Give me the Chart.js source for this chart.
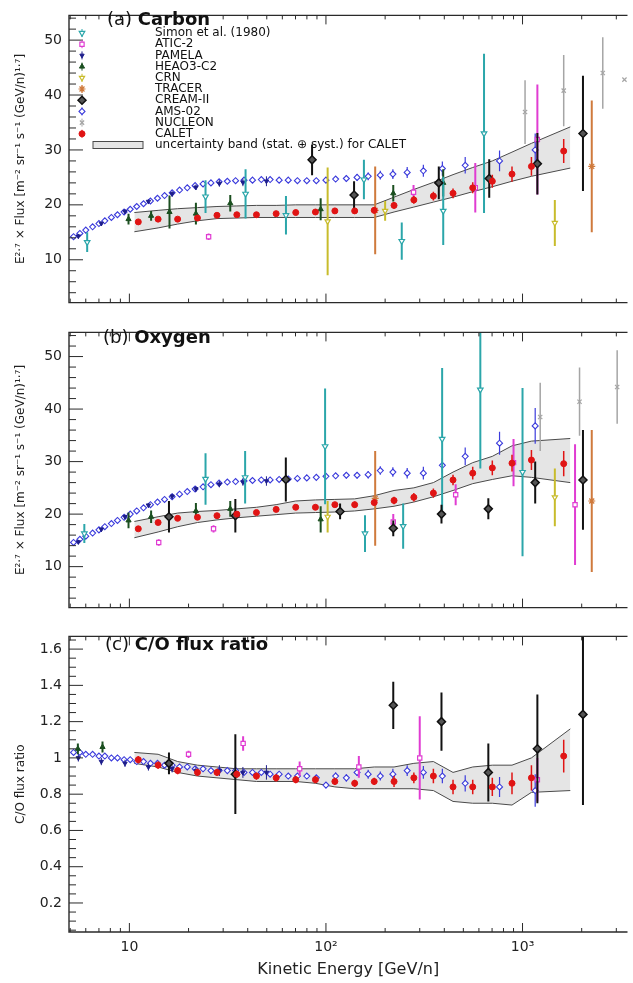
<!DOCTYPE html>
<html>
<head>
<meta charset="utf-8">
<script src="https://cdn.jsdelivr.net/npm/chart.js@4.4.1/dist/chart.umd.min.js"></script>
<style>
html, body { margin: 0; padding: 0; background: #fff; overflow: hidden; }
.pane { position: absolute; left: 0; width: 633px; }
#wa { top: 0; height: 318px; }
#wb { top: 317px; height: 306px; }
#wc { top: 621px; height: 362px; }
canvas { display: block; }
</style>
</head>
<body>
<div class="pane" id="wa"><canvas id="ca" width="633" height="318"></canvas></div>
<div class="pane" id="wb"><canvas id="cb" width="633" height="306"></canvas></div>
<div class="pane" id="wc"><canvas id="cc" width="633" height="362"></canvas></div>
<script>
// CALET C / O / C-O, plus other experiments, E^2.7 x flux vs kinetic energy per nucleon

// axis ticks
var xTickValues = [10, 100, 1000];
var xTickLabels = ["10", "10²", "10³"];
var yTicksFlux = [10, 20, 30, 40, 50];
var yTicksRatio = [0.2, 0.4, 0.6, 0.8, 1.0, 1.2, 1.4, 1.6];

// CALET (energy bins shared by C, O and C/O)
var calE = [11.1, 14.0, 17.6, 22.2, 27.9, 35.2, 44.3, 55.8, 70.2, 88.4, 111, 140, 176, 222, 280, 352, 443, 558, 702, 884, 1110, 1620];
var bandE = [10.6, 14.0, 17.6, 22.2, 27.9, 35.2, 44.3, 55.8, 70.2, 88.4, 111, 140, 176, 222, 280, 352, 443, 558, 702, 884, 1110, 1750];

var calC = [16.9, 17.4, 17.4, 17.6, 18.1, 18.2, 18.2, 18.4, 18.6, 18.7, 18.9, 18.9, 19.0, 19.9, 20.9, 21.6, 22.1, 23.1, 24.3, 25.6, 27.0, 29.8];
var calCErr = [0.4, 0.4, 0.4, 0.4, 0.4, 0.4, 0.4, 0.4, 0.5, 0.5, 0.5, 0.5, 0.6, 0.6, 0.7, 0.8, 0.9, 1.0, 1.2, 1.4, 1.7, 2.2];
var bandCLo = [15.1, 15.8, 16.5, 17.1, 17.5, 17.6, 17.7, 17.7, 17.7, 17.7, 17.7, 17.7, 17.7, 18.7, 19.6, 20.5, 21.4, 22.4, 23.3, 24.3, 25.2, 26.7];
var bandCHi = [18.6, 19.0, 19.3, 19.5, 19.7, 19.8, 19.9, 19.9, 20.0, 20.0, 20.0, 20.0, 20.0, 21.4, 22.8, 24.1, 25.5, 26.8, 28.0, 29.6, 31.2, 34.2];

var calO = [17.2, 18.4, 19.2, 19.4, 19.7, 20.0, 20.3, 20.9, 21.3, 21.3, 21.8, 21.8, 22.2, 22.6, 23.2, 24.0, 26.5, 27.8, 28.8, 29.7, 30.3, 29.6];
var calOErr = [0.4, 0.4, 0.4, 0.4, 0.4, 0.4, 0.5, 0.5, 0.5, 0.5, 0.5, 0.6, 0.6, 0.7, 0.8, 0.9, 1.0, 1.2, 1.4, 1.6, 1.9, 2.4];
var bandOLo = [15.5, 16.6, 17.6, 18.4, 18.9, 19.3, 19.6, 19.9, 20.2, 20.3, 20.4, 20.6, 21.0, 21.5, 22.3, 23.3, 24.5, 25.8, 26.6, 27.3, 27.0, 26.0];
var bandOHi = [18.6, 19.5, 20.2, 20.5, 20.7, 21.0, 21.3, 21.8, 22.5, 22.7, 22.8, 22.9, 23.5, 24.5, 25.0, 26.0, 28.0, 29.8, 31.0, 33.0, 33.9, 34.4];

var calR = [0.99, 0.96, 0.93, 0.92, 0.92, 0.91, 0.90, 0.89, 0.88, 0.88, 0.87, 0.86, 0.87, 0.87, 0.89, 0.90, 0.84, 0.84, 0.84, 0.86, 0.89, 1.01];
var calRErr = [0.02, 0.02, 0.02, 0.02, 0.02, 0.02, 0.02, 0.02, 0.02, 0.02, 0.02, 0.02, 0.02, 0.03, 0.03, 0.04, 0.04, 0.04, 0.05, 0.06, 0.07, 0.09];
var bandRLo = [0.97, 0.95, 0.92, 0.90, 0.89, 0.88, 0.87, 0.87, 0.87, 0.86, 0.84, 0.83, 0.83, 0.83, 0.83, 0.82, 0.76, 0.75, 0.75, 0.74, 0.81, 0.82];
var bandRHi = [1.03, 1.02, 0.98, 0.96, 0.95, 0.94, 0.94, 0.94, 0.94, 0.94, 0.94, 0.94, 0.95, 0.95, 0.97, 0.98, 0.92, 0.95, 0.96, 0.96, 1.00, 1.16];

// AMS-02
var amsE = [5.2, 5.6, 6.0, 6.5, 7.0, 7.5, 8.1, 8.7, 9.4, 10.1, 10.9, 11.8, 12.8, 13.9, 15.1, 16.5, 18.0, 19.7, 21.6, 23.7, 26.0, 28.6, 31.5, 34.7, 38.3, 42.3, 46.9, 52.0, 57.8, 64.3, 71.6, 79.9, 89.3, 100, 112, 127, 144, 164, 189, 219, 259, 313, 391, 511, 764, 1160];
var amsC = [14.2, 14.8, 15.4, 16.0, 16.6, 17.1, 17.7, 18.2, 18.7, 19.2, 19.7, 20.2, 20.7, 21.2, 21.7, 22.2, 22.7, 23.1, 23.5, 23.8, 24.0, 24.2, 24.3, 24.4, 24.5, 24.5, 24.6, 24.6, 24.5, 24.5, 24.4, 24.4, 24.4, 24.5, 24.7, 24.8, 25.0, 25.2, 25.4, 25.6, 25.9, 26.2, 26.6, 27.2, 28.0, 30.0];
var amsCErr = [0.3, 0.3, 0.3, 0.3, 0.3, 0.3, 0.3, 0.3, 0.3, 0.3, 0.3, 0.3, 0.3, 0.3, 0.3, 0.3, 0.3, 0.3, 0.3, 0.3, 0.3, 0.3, 0.3, 0.3, 0.3, 0.3, 0.3, 0.3, 0.3, 0.3, 0.4, 0.4, 0.4, 0.5, 0.5, 0.6, 0.6, 0.7, 0.8, 0.9, 1.0, 1.1, 1.3, 1.5, 1.9, 3.0];
var amsO = [14.6, 15.2, 15.8, 16.4, 17.0, 17.6, 18.2, 18.8, 19.4, 20.0, 20.6, 21.2, 21.8, 22.3, 22.8, 23.3, 23.8, 24.3, 24.8, 25.2, 25.6, 25.9, 26.1, 26.2, 26.3, 26.4, 26.5, 26.5, 26.6, 26.7, 26.8, 26.9, 27.0, 27.2, 27.3, 27.4, 27.4, 27.5, 28.3, 28.0, 27.8, 27.8, 29.3, 31.0, 33.5, 36.8];
var amsOErr = [0.3, 0.3, 0.3, 0.3, 0.3, 0.3, 0.3, 0.3, 0.3, 0.3, 0.3, 0.3, 0.3, 0.3, 0.3, 0.3, 0.3, 0.3, 0.3, 0.3, 0.3, 0.3, 0.3, 0.3, 0.3, 0.3, 0.3, 0.3, 0.3, 0.3, 0.4, 0.4, 0.4, 0.5, 0.5, 0.6, 0.6, 0.7, 0.8, 0.9, 1.0, 1.2, 1.4, 1.7, 2.2, 3.4];
var amsR = [1.03, 1.03, 1.02, 1.02, 1.01, 1.01, 1.00, 1.00, 0.99, 0.99, 0.98, 0.98, 0.97, 0.97, 0.96, 0.96, 0.95, 0.95, 0.94, 0.94, 0.93, 0.93, 0.93, 0.93, 0.92, 0.92, 0.92, 0.91, 0.91, 0.90, 0.90, 0.90, 0.89, 0.85, 0.90, 0.89, 0.92, 0.91, 0.90, 0.91, 0.93, 0.92, 0.90, 0.86, 0.84, 0.82];
var amsRErr = [0.01, 0.01, 0.01, 0.01, 0.01, 0.01, 0.01, 0.01, 0.01, 0.01, 0.01, 0.01, 0.01, 0.01, 0.01, 0.01, 0.01, 0.01, 0.01, 0.01, 0.01, 0.01, 0.01, 0.01, 0.01, 0.01, 0.01, 0.01, 0.01, 0.01, 0.01, 0.01, 0.015, 0.015, 0.02, 0.02, 0.02, 0.025, 0.025, 0.03, 0.03, 0.035, 0.04, 0.045, 0.055, 0.09];

// PAMELA
var pamE = [5.5, 7.2, 9.5, 12.5, 16.5, 21.8, 28.7, 37.8, 49.8];
var pamC = [14.3, 16.6, 18.8, 20.6, 22.0, 23.2, 23.9, 24.1, 24.3];
var pamCErr = [0.4, 0.4, 0.4, 0.4, 0.5, 0.5, 0.6, 0.7, 0.9];
var pamO = [14.7, 17.1, 19.5, 21.7, 23.4, 24.8, 25.7, 26.1, 26.3];
var pamOErr = [0.4, 0.4, 0.4, 0.4, 0.5, 0.5, 0.6, 0.7, 0.9];
var pamR = [1.00, 0.98, 0.97, 0.95, 0.94, 0.93, 0.93, 0.92, 0.92];
var pamRErr = [0.02, 0.02, 0.02, 0.02, 0.02, 0.02, 0.03, 0.03, 0.04];

// Simon et al. (1980)
var simCE = [6.1, 24.4, 39, 62.6, 156, 243, 395, 637];
var simC = [13.2, 21.5, 22.0, 18.1, 24.6, 13.4, 18.9, 33.0];
var simCErr = [1.8, 3.0, 4.5, 3.5, 3.6, 3.4, 6.2, 14.5];
var simOE = [5.9, 24.4, 38.8, 99, 158, 247, 390, 610, 1000];
var simO = [16.3, 26.7, 27.0, 32.9, 16.3, 17.7, 34.3, 43.7, 28.0];
var simOErr = [1.8, 4.9, 5.0, 11.0, 3.5, 4.3, 13.5, 15.0, 16.0];

// ATIC-2
var atCE = [25.3, 279, 575, 1190];
var atC = [14.2, 22.3, 23.1, 31.9];
var atCErr = [0.6, 1.3, 4.5, 10.0];
var atOE = [14.1, 26.8, 220, 457, 900, 1850];
var atO = [14.6, 17.2, 18.5, 23.7, 29.8, 21.8];
var atOErr = [0.6, 0.7, 1.5, 2.0, 4.5, 11.5];
var atRE = [20, 37.9, 73.5, 147, 300, 1190];
var atR = [1.02, 1.08, 0.94, 0.95, 1.00, 0.88];
var atRErr = [0.02, 0.04, 0.04, 0.06, 0.23, 0.12];

// HEAO3-C2
var heCE = [9.9, 12.9, 16.0, 21.8, 32.6, 94, 220, 395];
var heC = [17.4, 18.0, 18.7, 18.4, 20.3, 19.2, 22.1, 24.0];
var heCErr = [1.0, 0.9, 3.0, 2.0, 1.5, 2.0, 1.5, 2.5];
var heOE = [9.9, 12.9, 21.8, 32.6, 94];
var heO = [18.8, 19.5, 20.6, 21.0, 19.0];
var heOErr = [1.5, 1.2, 1.5, 1.5, 2.5];
var heRE = [5.47, 7.3];
var heR = [1.05, 1.06];
var heRErr = [0.03, 0.03];

// CRN
var crnCE = [102, 200, 1460];
var crnC = [17.0, 18.9, 16.7];
var crnCErr = [9.8, 1.8, 4.2];
var crnOE = [102, 1460];
var crnO = [19.5, 23.2];
var crnOErr = [3.0, 5.5];

// TRACER
var trCE = [178, 2250];
var trC = [19.0, 27.0];
var trCErr = [8.0, 12.0];
var trOE = [178, 2250];
var trO = [23.0, 22.5];
var trOErr = [9.0, 13.5];

// CREAM-II
var crCE = [85, 139, 375, 677, 1190, 2030];
var crC = [28.2, 21.8, 24.0, 24.8, 27.5, 33.0];
var crCErr = [2.8, 2.5, 3.0, 3.5, 5.6, 10.5];
var crOE = [15.9, 34.6, 62.5, 118, 220, 387, 670, 1160, 2030];
var crO = [19.5, 19.7, 26.6, 20.5, 17.3, 20.0, 21.0, 26.0, 26.5];
var crOErr = [3.0, 3.2, 4.2, 1.5, 1.5, 1.8, 2.0, 4.0, 9.5];
var crRE = [15.9, 34.6, 220, 387, 670, 1190, 2030];
var crR = [0.97, 0.91, 1.29, 1.20, 0.92, 1.05, 1.24];
var crRErr = [0.06, 0.22, 0.13, 0.16, 0.16, 0.30, 0.50];

// NUCLEON
var nuCE = [1030, 1620, 2560, 3300];
var nuC = [36.9, 40.8, 44.0, 42.8];
var nuCErr = [5.8, 6.5, 6.5, 0];
var nuOE = [1230, 1950, 3030];
var nuO = [38.5, 41.4, 44.2];
var nuOErr = [6.5, 6.5, 7.0];

var FONT = "'DejaVu Sans', 'Liberation Sans', sans-serif";
var X_MIN = 4.93, X_MAX = 3420;
var BAND_FILL = 'rgba(175,175,175,0.33)';

var NAMES = {
  sim: 'Simon et al. (1980)', atic: 'ATIC-2', pam: 'PAMELA', heao: 'HEAO3-C2', crn: 'CRN',
  tracer: 'TRACER', cream: 'CREAM-II', ams: 'AMS-02', nuc: 'NUCLEON', cal: 'CALET'
};
var LEGEND_KEYS = ['sim', 'atic', 'pam', 'heao', 'crn', 'tracer', 'cream', 'ams', 'nuc', 'cal'];
var BAND_LABEL = 'uncertainty band (stat. ⊕ syst.) for CALET';

var STYLE = {
  sim:    { color: '#2ba6aa', fill: '#ffffff', shape: 'triangle', rot: 180, r: 3.2, bw: 1.2, bar: 2, order: 0 },
  atic:   { color: '#e03cd2', fill: '#ffffff', shape: 'rect', rot: 0, r: 3, bw: 1.2, bar: 2, order: 0 },
  pam:    { color: '#1e1e8c', fill: '#1e1e8c', shape: 'triangle', rot: 180, r: 2.5, bw: 1, bar: 1, order: 0 },
  heao:   { color: '#1b4f20', fill: '#1b4f20', shape: 'triangle', rot: 0, r: 3, bw: 1, bar: 2, order: 0 },
  crn:    { color: '#c8bc2c', fill: '#ffffff', shape: 'triangle', rot: 180, r: 3, bw: 1.2, bar: 2, order: 0 },
  tracer: { color: '#cf7a3c', fill: '#cf7a3c', shape: 'star', rot: 0, r: 3.5, bw: 1.2, bar: 2, order: 0 },
  cream:  { color: '#111111', fill: '#555555', shape: 'rectRot', rot: 0, r: 4, bw: 1.5, bar: 2, order: -1 },
  ams:    { color: '#3c3cdc', fill: '#ffffff', shape: 'rectRot', rot: 0, r: 3, bw: 1.1, bar: 1.2, order: 0 },
  nuc:    { color: '#a5a5a5', fill: '#a5a5a5', shape: 'crossRot', rot: 0, r: 3, bw: 1.2, bar: 1.5, order: 0 },
  cal:    { color: '#e01414', fill: '#e01414', shape: 'circle', rot: 0, r: 3, bw: 1, bar: 1.5, order: -2 }
};

function series(key, xs, ys, es) {
  var s = STYLE[key];
  return {
    label: NAMES[key],
    data: xs.map(function (x, i) { return { x: x, y: ys[i] }; }),
    err: es, errColor: s.color, errWidth: s.bar,
    pointStyle: s.shape, rotation: s.rot, pointRadius: s.r,
    borderColor: s.color, backgroundColor: s.fill, borderWidth: s.bw,
    showLine: false, order: s.order
  };
}

function bandLine(ys, fill) {
  return {
    type: 'line', label: 'band',
    data: bandE.map(function (x, i) { return { x: x, y: ys[i] }; }),
    borderColor: '#4a4a4a', borderWidth: 1, pointRadius: 0, tension: 0,
    fill: fill, backgroundColor: BAND_FILL, order: 10
  };
}

// vertical error bars, drawn just before each dataset's markers
var errorBars = {
  id: 'errorBars',
  beforeDatasetDraw: function (chart, args) {
    var ds = chart.data.datasets[args.index];
    if (!ds.err) return;
    var ctx = chart.ctx, xs = chart.scales.x, ys = chart.scales.y, a = chart.chartArea;
    ctx.save();
    ctx.beginPath();
    ctx.rect(a.left, a.top, a.right - a.left, a.bottom - a.top);
    ctx.clip();
    ctx.strokeStyle = ds.errColor;
    ctx.lineWidth = ds.errWidth;
    ds.data.forEach(function (p, i) {
      var e = ds.err[i];
      if (!e) return;
      var px = xs.getPixelForValue(p.x);
      ctx.beginPath();
      ctx.moveTo(px, ys.getPixelForValue(p.y - e));
      ctx.lineTo(px, ys.getPixelForValue(p.y + e));
      ctx.stroke();
    });
    ctx.restore();
  }
};

// ROOT-like frame with inner ticks
var frame = {
  id: 'frame',
  afterDraw: function (chart) {
    var o = chart.options.plugins.frame;
    var ctx = chart.ctx, a = chart.chartArea, xs = chart.scales.x, ys = chart.scales.y;
    ctx.save();
    ctx.strokeStyle = '#2a2a2a';
    ctx.lineWidth = 1.4;
    ctx.beginPath();
    ctx.moveTo(a.right, a.top); ctx.lineTo(a.left, a.top);
    ctx.lineTo(a.left, a.bottom); ctx.lineTo(a.right, a.bottom);
    ctx.stroke();
    ctx.lineWidth = 1;
    var n = Math.round((ys.max - o.yFirst) / o.yMinor);
    for (var k = 0; k <= n; k++) {
      var v = o.yFirst + k * o.yMinor;
      if (v < ys.min || v > ys.max) continue;
      var r = v / o.yMajor;
      var major = Math.abs(r - Math.round(r)) < 1e-6;
      var py = ys.getPixelForValue(v);
      ctx.beginPath();
      ctx.moveTo(a.left, py); ctx.lineTo(a.left + (major ? 14 : 7), py);
      ctx.stroke();
    }
    for (var dec = 1; dec <= 1000; dec *= 10) {
      for (var m = 1; m <= 9; m++) {
        var xv = m * dec;
        if (xv < xs.min || xv > xs.max) continue;
        var px = xs.getPixelForValue(xv);
        var len = m === 1 ? 9 : 4;
        ctx.beginPath();
        ctx.moveTo(px, a.bottom); ctx.lineTo(px, a.bottom - len);
        ctx.moveTo(px, a.top); ctx.lineTo(px, a.top + len);
        ctx.stroke();
      }
    }
    ctx.restore();
  }
};

// "(a) Carbon" style panel label
var panelLabel = {
  id: 'panelLabel',
  afterDraw: function (chart) {
    var o = chart.options.plugins.panelLabel;
    var ctx = chart.ctx;
    ctx.save();
    ctx.fillStyle = '#111';
    ctx.textBaseline = 'middle';
    ctx.font = '18px ' + FONT;
    ctx.fillText(o.tag, o.x, o.y);
    var w = ctx.measureText(o.tag).width;
    ctx.font = 'bold 18px ' + FONT;
    ctx.fillText(o.name, o.x + w, o.y);
    ctx.restore();
  }
};

var panelLegend = {
  id: 'panelLegend',
  afterDraw: function (chart) {
    var o = chart.options.plugins.panelLegend;
    if (!o || !o.show) return;
    var ctx = chart.ctx;
    ctx.save();
    ctx.textBaseline = 'middle';
    ctx.font = '12px ' + FONT;
    LEGEND_KEYS.forEach(function (k, i) {
      var s = STYLE[k];
      var y = o.y0 + i * o.dy;
      ctx.strokeStyle = s.color;
      ctx.lineWidth = 1;
      ctx.beginPath(); ctx.moveTo(o.mx, y - 4); ctx.lineTo(o.mx, y + 4); ctx.stroke();
      ctx.fillStyle = s.fill;
      ctx.lineWidth = s.bw;
      Chart.helpers.drawPoint(ctx, { pointStyle: s.shape, rotation: s.rot, radius: s.r, borderWidth: s.bw }, o.mx, y);
      ctx.fillStyle = '#111';
      ctx.fillText(NAMES[k], o.tx, y);
    });
    var yb = o.y0 + LEGEND_KEYS.length * o.dy;
    ctx.fillStyle = BAND_FILL;
    ctx.fillRect(o.bx, yb - 3.5, o.bw, 7);
    ctx.strokeStyle = '#4a4a4a';
    ctx.lineWidth = 1;
    ctx.strokeRect(o.bx, yb - 3.5, o.bw, 7);
    ctx.fillStyle = '#111';
    ctx.fillText(BAND_LABEL, o.tx, yb);
    ctx.restore();
  }
};

function buildPanel(id, cfg) {
  var datasets = [bandLine(cfg.bandLo, false), bandLine(cfg.bandHi, '-1')]
    .concat(cfg.series.map(function (s) { return series(s[0], s[1], s[2], s[3]); }));
  var xAxis = {
    type: 'logarithmic', min: X_MIN, max: X_MAX, display: cfg.showX,
    grid: { display: false, drawTicks: false }, border: { display: false },
    afterBuildTicks: function (s) { s.ticks = xTickValues.map(function (v) { return { value: v }; }); },
    ticks: {
      font: { family: FONT, size: 14 }, color: '#222', padding: 7, maxRotation: 0, autoSkip: false,
      callback: function (v, i) { return xTickLabels[i]; }
    },
    title: { display: cfg.showX, text: 'Kinetic Energy [GeV/n]', font: { family: FONT, size: 16 }, color: '#222', padding: { top: 0, bottom: 4 } }
  };
  if (cfg.showX) xAxis.afterFit = function (s) { s.height = 51; };
  return new Chart(document.getElementById(id), {
    type: 'scatter',
    data: { datasets: datasets },
    options: {
      responsive: false, animation: false, events: [],
      layout: { padding: { top: cfg.padTop, bottom: cfg.padBottom, left: 0, right: 0 } },
      plugins: {
        legend: { display: false }, tooltip: { enabled: false },
        frame: { yFirst: cfg.yFirst, yMinor: cfg.yMinor, yMajor: cfg.yMajor },
        panelLabel: cfg.label,
        panelLegend: { show: cfg.legend, y0: 33, dy: 11.2, mx: 82, tx: 155, bx: 93, bw: 50 }
      },
      scales: {
        x: xAxis,
        y: {
          min: cfg.yMin, max: cfg.yMax,
          grid: { display: false, drawTicks: false }, border: { display: false },
          afterBuildTicks: function (s) { s.ticks = cfg.yTicks.map(function (v) { return { value: v }; }); },
          afterFit: function (s) { s.width = 69; },
          ticks: {
            font: { family: FONT, size: 14 }, color: '#222', padding: 7,
            callback: function (v) { return String(+Number(v).toFixed(2)); }
          },
          title: { display: true, text: cfg.yTitle, font: { family: FONT, size: 12 }, color: '#222', padding: { top: 14, bottom: 0 } }
        }
      }
    },
    plugins: [errorBars, frame, panelLabel, panelLegend]
  });
}

var FLUX_TITLE = 'E²·⁷ × Flux [m⁻² sr⁻¹ s⁻¹ (GeV/n)¹·⁷]';

buildPanel('ca', {
  bandLo: bandCLo, bandHi: bandCHi,
  series: [
    ['sim', simCE, simC, simCErr], ['atic', atCE, atC, atCErr], ['pam', pamE, pamC, pamCErr],
    ['heao', heCE, heC, heCErr], ['crn', crnCE, crnC, crnCErr], ['tracer', trCE, trC, trCErr],
    ['ams', amsE, amsC, amsCErr], ['nuc', nuCE, nuC, nuCErr], ['cream', crCE, crC, crCErr],
    ['cal', calE, calC, calCErr]
  ],
  yMin: 2.2, yMax: 54.5, yTicks: yTicksFlux, yFirst: 4, yMinor: 2, yMajor: 10,
  yTitle: FLUX_TITLE, showX: false, padTop: 7, padBottom: 1, legend: true,
  label: { tag: '(a) ', name: 'Carbon', x: 107, y: 20 }
});

buildPanel('cb', {
  bandLo: bandOLo, bandHi: bandOHi,
  series: [
    ['sim', simOE, simO, simOErr], ['atic', atOE, atO, atOErr], ['pam', pamE, pamO, pamOErr],
    ['heao', heOE, heO, heOErr], ['crn', crnOE, crnO, crnOErr], ['tracer', trOE, trO, trOErr],
    ['ams', amsE, amsO, amsOErr], ['nuc', nuOE, nuO, nuOErr], ['cream', crOE, crO, crOErr],
    ['cal', calE, calO, calOErr]
  ],
  yMin: 2.2, yMax: 54.6, yTicks: yTicksFlux, yFirst: 4, yMinor: 2, yMajor: 10,
  yTitle: FLUX_TITLE, showX: false, padTop: 1, padBottom: 1, legend: false,
  label: { tag: '(b) ', name: 'Oxygen', x: 103, y: 21 }
});

buildPanel('cc', {
  bandLo: bandRLo, bandHi: bandRHi,
  series: [
    ['atic', atRE, atR, atRErr], ['pam', pamE, pamR, pamRErr], ['heao', heRE, heR, heRErr],
    ['ams', amsE, amsR, amsRErr], ['cream', crRE, crR, crRErr], ['cal', calE, calR, calRErr]
  ],
  yMin: 0.04, yMax: 1.67, yTicks: yTicksRatio, yFirst: 0.05, yMinor: 0.05, yMajor: 0.2,
  yTitle: 'C/O flux ratio', showX: true, padTop: 1, padBottom: 0, legend: false,
  label: { tag: '(c) ', name: 'C/O flux ratio', x: 105, y: 24 }
});
</script>
</body>
</html>
